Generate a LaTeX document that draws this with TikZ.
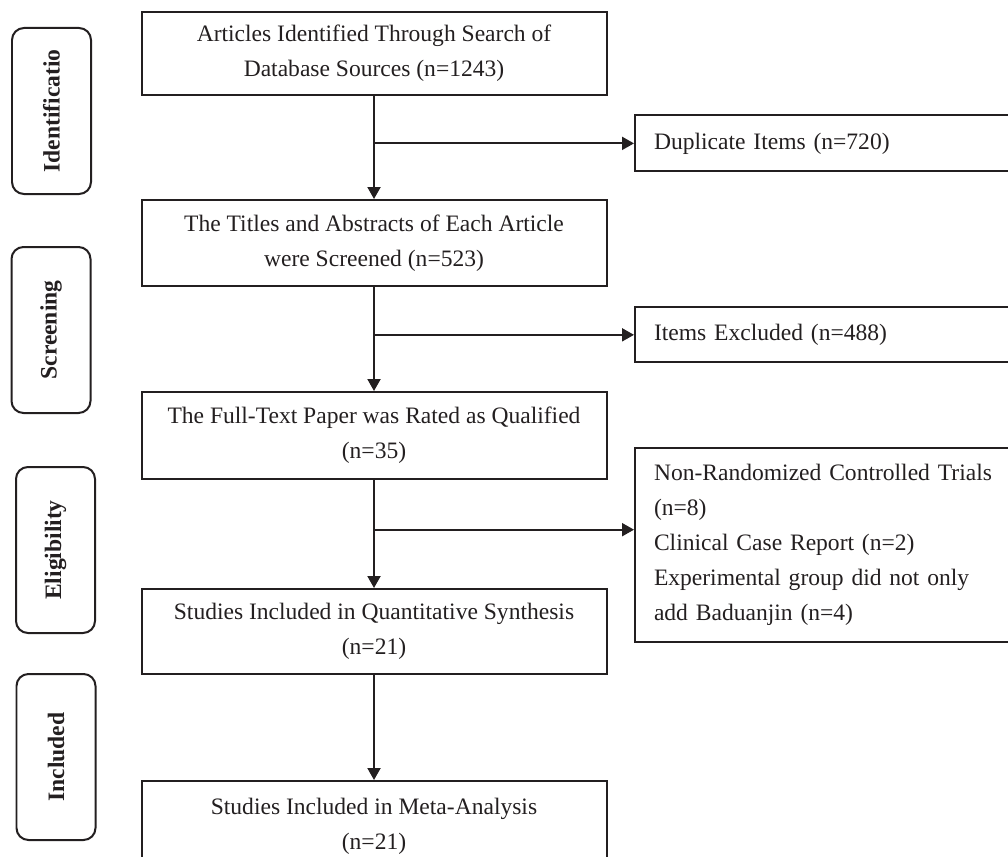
\documentclass[tikz,border=0pt]{standalone}
\usepackage{fontspec}
\setmainfont{Liberation Serif}
\usetikzlibrary{arrows.meta,positioning,calc}
\definecolor{ink}{RGB}{35,31,32}

\begin{document}
\begin{tikzpicture}[
  >={Triangle[length=0.24cm, width=0.26cm]},
  line width=0.04cm,
  draw=ink, text=ink,
  every node/.style={font=\fontsize{13.4pt}{19.9pt}\selectfont},
  flowbox/.style={draw=ink, text=ink, align=center, minimum width=9.3cm, minimum height=1.7cm, inner sep=0pt},
  sidebox/.style={draw=ink, text=ink, align=left, text width=6.8cm, inner xsep=0.38cm, inner ysep=0pt},
  stage/.style={draw=ink, text=ink, rounded corners=0.24cm, rotate=90, minimum width=3.32cm, minimum height=1.58cm, font=\fontsize{13.4pt}{19.9pt}\selectfont\bfseries}
]
\useasboundingbox (0,0) rectangle (20.16,-17.12);

% main chain
\node[flowbox, minimum height=1.66cm] (search) at (7.48,-1.07) {Articles Identified Through Search of\\Database Sources (n=1243)};
\node[flowbox, minimum height=1.72cm, below=2.06cm of search] (titles) {The Titles and Abstracts of Each Article\\were Screened (n=523)};
\node[flowbox, minimum height=1.74cm, below=2.08cm of titles] (fulltext) {The Full-Text Paper was Rated as Qualified\\(n=35)};
\node[flowbox, below=2.16cm of fulltext] (quant) {Studies Included in Quantitative Synthesis\\(n=21)};
\node[flowbox, minimum height=1.8cm, below=2.1cm of quant] (meta) {Studies Included in Meta-Analysis\\(n=21)};

\coordinate (m1) at ($(search.south)!0.46!(titles.north)$);
\coordinate (m2) at ($(titles.south)!0.46!(fulltext.north)$);
\coordinate (m3) at ($(fulltext.south)!0.46!(quant.north)$);

% excluded records
\node[sidebox, minimum height=1.12cm, right=5.2cm of m1] (dup) {Duplicate Items (n=720)};
\node[sidebox, minimum height=1.1cm, right=5.2cm of m2] (excl) {Items Excluded (n=488)};
\node[sidebox, minimum height=3.88cm, right=5.2cm of m3, yshift=-0.3cm] (nonrct)
  {Non-Randomized Controlled Trials\\(n=8)\\Clinical Case Report (n=2)\\Experimental group did not only\\add Baduanjin (n=4)};

\draw[->, ink] (search.south) -- (titles.north);
\draw[->, ink] (titles.south) -- (fulltext.north);
\draw[->, ink] (fulltext.south) -- (quant.north);
\draw[->, ink] (quant.south) -- (meta.north);

\draw[->, ink] (m1) -- (m1 -| dup.west);
\draw[->, ink] (m2) -- (m2 -| excl.west);
\draw[->, ink] (m3) -- (m3 -| nonrct.west);

% stage labels
\node[stage] (ident) at (1.03,-2.22) {Identificatio};
\node[stage] (screen) at (1.02,-6.6) {Screening};
\node[stage] (elig) at (1.11,-11.0) {Eligibility};
\node[stage] (incl) at (1.12,-15.14) {Included};

\end{tikzpicture}
\end{document}
